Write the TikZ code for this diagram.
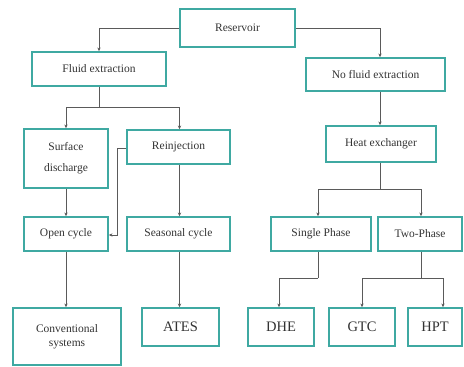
\documentclass[tikz,border=0pt]{standalone}
\usepackage{fontspec}
\setmainfont{Liberation Serif}
\usetikzlibrary{arrows.meta}
\definecolor{boxteal}{HTML}{3FA9A2}
\definecolor{linegray}{HTML}{5A5A5A}
\begin{document}
\begin{tikzpicture}[x=1pt,y=-1pt,
  box/.style={draw=boxteal,line width=1.8pt,fill=white,inner sep=0pt,font=\fontsize{11.5}{15}\selectfont,align=center,text=black!80},
  bigbox/.style={box,font=\fontsize{14.5}{16}\selectfont},
  wire/.style={draw=linegray,line width=0.8pt},
  conn/.style={wire,-{Stealth[length=3.6pt,width=3.4pt]}}]
\useasboundingbox (0,0) rectangle (464,367);
\newcommand\mybox[7]{\node[#1,minimum width=#4-#2,minimum height=#5-#3] (#6) at ({(#2+#4)/2},{(#3+#5)/2}) {#7};}
\mybox{box}{180}{9}{295}{47}{res}{Reservoir}
\mybox{box}{32}{52}{166}{86}{fe}{Fluid extraction}
\mybox{box}{306}{58}{445}{91}{nfe}{No fluid extraction}
\mybox{box}{326}{126}{436}{162}{hx}{Heat exchanger}
\mybox{box}{24}{129}{108}{188}{sd}{Surface\\[6pt]discharge}
\mybox{box}{127}{130}{230}{164}{rj}{Reinjection}
\mybox{box}{24}{217}{108}{251}{oc}{Open cycle}
\mybox{box}{127}{217}{230}{251}{sc}{Seasonal cycle}
\mybox{box}{271}{217}{371}{251}{sp}{Single Phase}
\mybox{box}{378}{217}{462}{251}{tp}{Two-Phase}
\mybox{box}{13}{308}{121}{365}{cs}{Conventional\\[-1pt]systems}
\mybox{bigbox}{142}{308}{219}{346}{ates}{ATES}
\mybox{bigbox}{248}{308}{314}{346}{dhe}{DHE}
\mybox{bigbox}{329}{308}{395}{346}{gtc}{GTC}
\mybox{bigbox}{408}{308}{462}{346}{hpt}{HPT}
\coordinate (j1) at (99,107);
\coordinate (j2) at (380,189);
\coordinate (j3) at (318,278);
\coordinate (j4) at (421,278);
\draw[conn] (res.west) -| (fe.north -| j1);
\draw[conn] (res.east) -| (nfe.north -| j2);
\draw[conn] (nfe.south -| j2) -- (hx.north -| j2);
\draw[wire] (fe.south -| j1) -- (j1);
\draw[conn] (j1) -| (sd.north);
\draw[conn] (j1) -| ([xshift=1pt]rj.north);
\draw[conn] (sd.south) -- (oc.north);
\draw[conn] ([yshift=-1pt]rj.west) -- ++(-9,0) |- ([yshift=-1pt]oc.east);
\draw[conn] ([xshift=1pt]rj.south) -- ([xshift=1pt]sc.north);
\draw[conn] (oc.south) -- (oc.south |- cs.north);
\draw[conn] ([xshift=1pt]sc.south) -- ([xshift=1pt]sc.south |- ates.north);
\draw[wire] (hx.south -| j2) -- (j2);
\draw[conn] (j2) -| (sp.north -| j3);
\draw[conn] (j2) -| (tp.north -| j4);
\draw[wire] (sp.south -| j3) -- (j3);
\draw[conn] (j3) -| ([xshift=-2pt]dhe.north);
\draw[wire] (tp.south -| j4) -- (j4);
\draw[conn] (j4) -| (gtc.north);
\draw[conn] (j4) -| ([xshift=8pt]hpt.north);
\end{tikzpicture}
\end{document}
